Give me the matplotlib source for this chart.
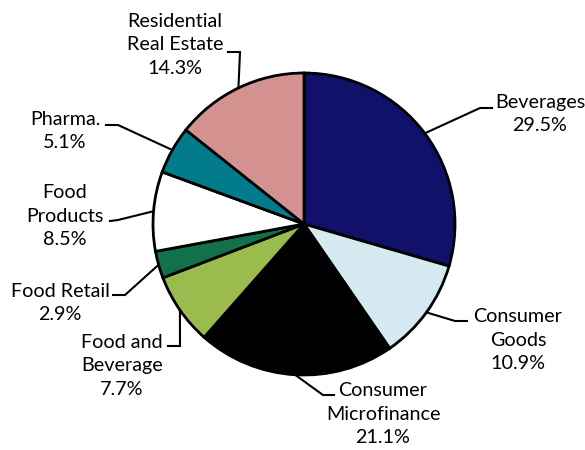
import numpy as np
import matplotlib as mp
mp.use('Agg')
import matplotlib.pyplot as plt

sectors = ['Beverages', 'Consumer\nGoods', 'Consumer\nMicrofinance', 'Food and\nBeverage',
           'Food Retail', 'Food\nProducts', 'Pharma.', 'Residential\nReal Estate']
shares = [29.5, 10.9, 21.1, 7.7, 2.9, 8.5, 5.1, 14.3]
colors = ['#11116a', '#d4e9f0', '#000000', '#9bbb4f', '#12704a', '#ffffff', '#027b8a', '#d3918f']

# label layout in pixels (x, y of text block centre), elbow point, and end of the short tick
label_pos = [(540, 114), (518, 340), (383, 414), (122, 366), (60, 303), (65, 216), (65, 131), (175, 45)]
elbows = [(480, 108), (455, 321), (323, 395), (180, 346), (125, 295), (118, 220), (118, 125), (240, 52)]
ticks = [(492, 108), (467, 321), (334, 395), (168, 346), (113, 295), (110, 221), (106, 125), (228, 52)]

W, H = 585, 450
cx, cy, r = 304, 224, 151

plt.rcParams['font.family'] = ['Lato', 'DejaVu Sans']
fig = plt.figure(figsize=(W / 100, H / 100), dpi=100)
ax = fig.add_axes([0, 0, 1, 1])

ax.pie(shares, colors=colors, startangle=90, counterclock=False, center=(cx, H - cy), radius=r,
       wedgeprops=dict(edgecolor='black', linewidth=2), frame=True)
ax.set_xlim(0, W)
ax.set_ylim(0, H)
ax.set_aspect('equal')
ax.axis('off')

cum = np.cumsum([0] + shares)
for i, (name, v) in enumerate(zip(sectors, shares)):
    mid = np.deg2rad((cum[i] + cum[i + 1]) / 2 / 100 * 360)
    ex, ey = cx + r * np.sin(mid), cy - r * np.cos(mid)
    xs = [ex, elbows[i][0], ticks[i][0]]
    ys = [H - ey, H - elbows[i][1], H - ticks[i][1]]
    ax.plot(xs, ys, color='black', lw=1.5, solid_joinstyle='miter')
    ax.text(label_pos[i][0], H - label_pos[i][1], '{}\n{}%'.format(name, v),
            ha='center', va='center', multialignment='center', fontsize=14.2, linespacing=1.45,
            color='black')

fig.savefig('out.png', dpi=100)
